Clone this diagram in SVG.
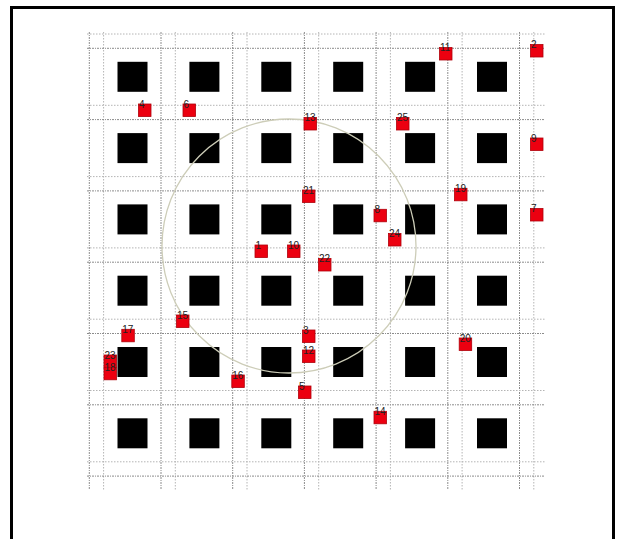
<svg xmlns="http://www.w3.org/2000/svg" width="625" height="539" viewBox="0 0 625 539">
<defs>
<style>
.gv{stroke:#8c8c8c;stroke-width:1;stroke-dasharray:2 1 1 1;fill:none}
.gl{stroke:#b4b4b4;stroke-width:1;stroke-dasharray:1.5 1.5;fill:none}
.blk{fill:#000}
.mk{fill:#ec0010;stroke:#b0000a;stroke-width:0.8}
.lb{font-family:"Liberation Sans",Arial,sans-serif;font-size:10px;fill:#222}
</style>
<rect id="blkproto" width="30" height="30" class="blk"/>
</defs>
<rect x="0" y="0" width="625" height="539" fill="#fff"/>
<rect id="frame" x="11.5" y="7.5" width="602" height="540" fill="none" stroke="#000" stroke-width="3"/>
<g id="grid">
<g id="vlines">
<line class="gv" x1="89.3" y1="32" x2="89.3" y2="490"/>
<line class="gl" x1="103.6" y1="32" x2="103.6" y2="490"/>
<line class="gv" x1="161" y1="32" x2="161" y2="490"/>
<line class="gl" x1="175.3" y1="32" x2="175.3" y2="490"/>
<line class="gv" x1="232.7" y1="32" x2="232.7" y2="490"/>
<line class="gl" x1="247" y1="32" x2="247" y2="490"/>
<line class="gv" x1="304.4" y1="32" x2="304.4" y2="490"/>
<line class="gl" x1="318.7" y1="32" x2="318.7" y2="490"/>
<line class="gv" x1="376.1" y1="32" x2="376.1" y2="490"/>
<line class="gl" x1="390.4" y1="32" x2="390.4" y2="490"/>
<line class="gv" x1="447.8" y1="32" x2="447.8" y2="490"/>
<line class="gl" x1="462.1" y1="32" x2="462.1" y2="490"/>
<line class="gv" x1="519.5" y1="32" x2="519.5" y2="490"/>
<line class="gl" x1="533.8" y1="32" x2="533.8" y2="490"/>
</g>
<g id="hlines">
<line class="gl" x1="87" y1="34" x2="545" y2="34"/>
<line class="gv" x1="87" y1="48.3" x2="545" y2="48.3"/>
<line class="gl" x1="87" y1="105.3" x2="545" y2="105.3"/>
<line class="gv" x1="87" y1="119.6" x2="545" y2="119.6"/>
<line class="gl" x1="87" y1="176.6" x2="545" y2="176.6"/>
<line class="gv" x1="87" y1="190.9" x2="545" y2="190.9"/>
<line class="gl" x1="87" y1="247.9" x2="545" y2="247.9"/>
<line class="gv" x1="87" y1="262.2" x2="545" y2="262.2"/>
<line class="gl" x1="87" y1="319.2" x2="545" y2="319.2"/>
<line class="gv" x1="87" y1="333.5" x2="545" y2="333.5"/>
<line class="gl" x1="87" y1="390.5" x2="545" y2="390.5"/>
<line class="gv" x1="87" y1="404.8" x2="545" y2="404.8"/>
<line class="gl" x1="87" y1="461.8" x2="545" y2="461.8"/>
<line class="gv" x1="87" y1="476.1" x2="545" y2="476.1"/>
</g>
</g>
<g id="blocks">
<use href="#blkproto" x="117.5" y="61.8"/><use href="#blkproto" x="189.4" y="61.8"/><use href="#blkproto" x="261.3" y="61.8"/><use href="#blkproto" x="333.2" y="61.8"/><use href="#blkproto" x="405.1" y="61.8"/><use href="#blkproto" x="477" y="61.8"/>
<use href="#blkproto" x="117.5" y="133.1"/><use href="#blkproto" x="189.4" y="133.1"/><use href="#blkproto" x="261.3" y="133.1"/><use href="#blkproto" x="333.2" y="133.1"/><use href="#blkproto" x="405.1" y="133.1"/><use href="#blkproto" x="477" y="133.1"/>
<use href="#blkproto" x="117.5" y="204.4"/><use href="#blkproto" x="189.4" y="204.4"/><use href="#blkproto" x="261.3" y="204.4"/><use href="#blkproto" x="333.2" y="204.4"/><use href="#blkproto" x="405.1" y="204.4"/><use href="#blkproto" x="477" y="204.4"/>
<use href="#blkproto" x="117.5" y="275.7"/><use href="#blkproto" x="189.4" y="275.7"/><use href="#blkproto" x="261.3" y="275.7"/><use href="#blkproto" x="333.2" y="275.7"/><use href="#blkproto" x="405.1" y="275.7"/><use href="#blkproto" x="477" y="275.7"/>
<use href="#blkproto" x="117.5" y="347"/><use href="#blkproto" x="189.4" y="347"/><use href="#blkproto" x="261.3" y="347"/><use href="#blkproto" x="333.2" y="347"/><use href="#blkproto" x="405.1" y="347"/><use href="#blkproto" x="477" y="347"/>
<use href="#blkproto" x="117.5" y="418.3"/><use href="#blkproto" x="189.4" y="418.3"/><use href="#blkproto" x="261.3" y="418.3"/><use href="#blkproto" x="333.2" y="418.3"/><use href="#blkproto" x="405.1" y="418.3"/><use href="#blkproto" x="477" y="418.3"/>
</g>
<circle id="range" cx="289" cy="246" r="127" fill="none" stroke="#cdcdb8" stroke-width="1.3"/>
<g id="connectors"/>
<g id="n11"><rect class="mk" x="439.5" y="47.5" width="12.5" height="12.5"/><text class="lb" x="440" y="51">11</text></g>
<g id="n2"><rect class="mk" x="530.5" y="44.5" width="12.5" height="12.5"/><text class="lb" x="531" y="48">2</text></g>
<g id="n4"><rect class="mk" x="138.5" y="104" width="12.5" height="12.5"/><text class="lb" x="139" y="107.5">4</text></g>
<g id="n6"><rect class="mk" x="183" y="104" width="12.5" height="12.5"/><text class="lb" x="183.5" y="107.5">6</text></g>
<g id="n13"><rect class="mk" x="304" y="117.5" width="12.5" height="12.5"/><text class="lb" x="304.5" y="121">13</text></g>
<g id="n25"><rect class="mk" x="396.5" y="117.5" width="12.5" height="12.5"/><text class="lb" x="397" y="121">25</text></g>
<g id="n9"><rect class="mk" x="530.5" y="138" width="12.5" height="12.5"/><text class="lb" x="531" y="141.5">9</text></g>
<g id="n21"><rect class="mk" x="302.5" y="190" width="12.5" height="12.5"/><text class="lb" x="303" y="193.5">21</text></g>
<g id="n19"><rect class="mk" x="454.5" y="188.3" width="12.5" height="12.5"/><text class="lb" x="455" y="191.8">19</text></g>
<g id="n8"><rect class="mk" x="374" y="209.3" width="12.5" height="12.5"/><text class="lb" x="374.5" y="212.8">8</text></g>
<g id="n7"><rect class="mk" x="530.5" y="208.5" width="12.5" height="12.5"/><text class="lb" x="531" y="212">7</text></g>
<g id="n24"><rect class="mk" x="388.5" y="233.5" width="12.5" height="12.5"/><text class="lb" x="389" y="237">24</text></g>
<g id="n1"><rect class="mk" x="255" y="245" width="12.5" height="12.5"/><text class="lb" x="255.5" y="248.5">1</text></g>
<g id="n10"><rect class="mk" x="287.5" y="245" width="12.5" height="12.5"/><text class="lb" x="288" y="248.5">10</text></g>
<g id="n22"><rect class="mk" x="318.5" y="258.5" width="12.5" height="12.5"/><text class="lb" x="319" y="262">22</text></g>
<g id="n15"><rect class="mk" x="176.5" y="315" width="12.5" height="12.5"/><text class="lb" x="177" y="318.5">15</text></g>
<g id="n17"><rect class="mk" x="121.8" y="329.3" width="12.5" height="12.5"/><text class="lb" x="122.3" y="332.8">17</text></g>
<g id="n3"><rect class="mk" x="302.5" y="330" width="12.5" height="12.5"/><text class="lb" x="303" y="333.5">3</text></g>
<g id="n20"><rect class="mk" x="459.2" y="338" width="12.5" height="12.5"/><text class="lb" x="459.7" y="341.5">20</text></g>
<g id="n12"><rect class="mk" x="302.5" y="350" width="12.5" height="12.5"/><text class="lb" x="303" y="353.5">12</text></g>
<g id="n23"><rect class="mk" x="104" y="355" width="12.5" height="12.5"/><text class="lb" x="104.5" y="358.5">23</text></g>
<g id="n18"><rect class="mk" x="104" y="367.3" width="12.5" height="12.5"/><text class="lb" x="104.5" y="370.8">18</text></g>
<g id="n16"><rect class="mk" x="231.8" y="375" width="12.5" height="12.5"/><text class="lb" x="232.3" y="378.5">16</text></g>
<g id="n5"><rect class="mk" x="298.5" y="386" width="12.5" height="12.5"/><text class="lb" x="299" y="389.5">5</text></g>
<g id="n14"><rect class="mk" x="374" y="411.3" width="12.5" height="12.5"/><text class="lb" x="374.5" y="414.8">14</text></g>
</svg>
